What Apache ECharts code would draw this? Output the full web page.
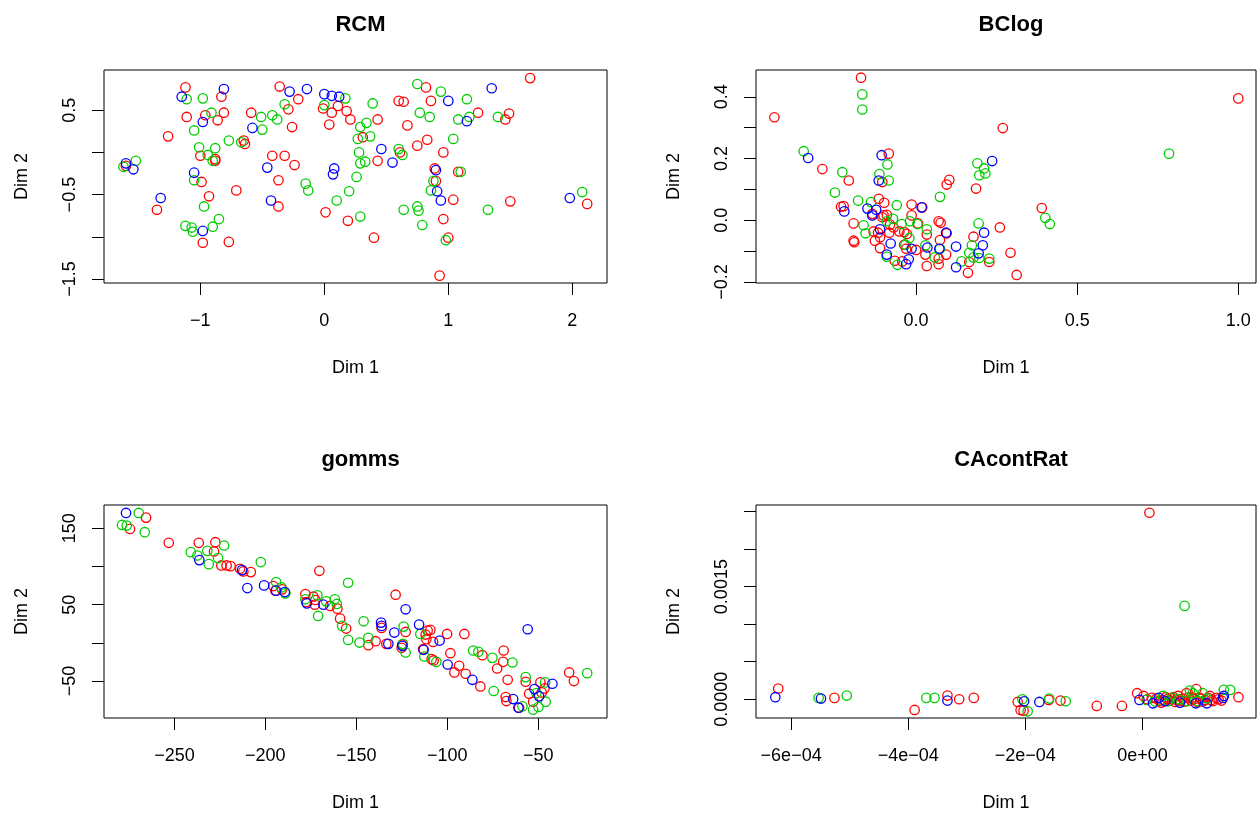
<!DOCTYPE html>
<html><head><meta charset="utf-8">
<script src="https://cdn.jsdelivr.net/npm/echarts@6/dist/echarts.min.js"></script>
<style>html,body{margin:0;padding:0;background:#fff}#c{width:1258px;height:814px}</style>
</head><body><div id="c"></div>
<script>
// ---------- DATA ----------
const panelTitles = ['RCM', 'BClog', 'gomms', 'CAcontRat'];
const xName = 'Dim 1';
const yName = 'Dim 2';

// RCM
const rcmRed = [[-1.12,0.77],[-0.83,0.66],[-1.11,0.42],[-0.96,0.44],[-0.86,0.38],[-0.81,0.47],[-1.26,0.19],[-0.65,0.14],[-0.64,0.10],[-0.59,0.47],[-0.36,0.78],[-0.21,0.63],[-0.29,0.51],[-0.26,0.30],[-1.0,-0.04],[-0.88,-0.08],[-0.88,-0.10],[-0.99,-0.35],[-0.93,-0.52],[-0.71,-0.45],[-1.35,-0.68],[-0.98,-1.07],[-0.77,-1.06],[-0.42,-0.04],[-0.32,-0.04],[-0.24,-0.15],[-0.37,-0.33],[-0.37,-0.64],[-0.01,0.52],[0.06,0.47],[0.11,0.55],[0.04,0.33],[0.18,0.49],[0.21,0.39],[0.01,-0.71],[0.19,-0.81],[-1.60,-0.16],[1.66,0.88],[0.82,0.77],[0.60,0.61],[0.64,0.60],[0.86,0.61],[0.43,0.39],[0.67,0.32],[0.31,0.18],[0.75,0.08],[0.83,0.15],[0.96,0.0],[0.61,0.0],[0.43,-0.10],[0.89,-0.19],[0.90,-0.34],[1.08,-0.23],[1.04,-0.56],[0.96,-0.79],[1.0,-1.01],[0.40,-1.01],[0.93,-1.46],[1.24,0.47],[1.46,0.39],[1.49,0.46],[1.50,-0.58],[2.12,-0.61]];
const rcmGreen = [[-1.11,0.63],[-0.98,0.64],[-0.91,0.47],[-1.05,0.26],[-1.01,0.06],[-0.94,-0.03],[-0.88,0.05],[-0.90,-0.10],[-0.77,0.14],[-0.67,0.12],[-0.51,0.42],[-0.50,0.27],[-0.42,0.44],[-0.38,0.39],[-0.32,0.57],[-1.52,-0.10],[-1.62,-0.17],[-1.05,-0.33],[-0.97,-0.64],[-1.12,-0.87],[-1.07,-0.89],[-1.06,-0.94],[-0.90,-0.88],[-0.85,-0.79],[-0.15,-0.37],[-0.13,-0.45],[0.0,0.56],[0.17,0.64],[0.10,-0.57],[0.20,-0.46],[0.75,0.81],[0.94,0.72],[0.39,0.58],[1.15,0.63],[0.77,0.47],[0.85,0.42],[1.08,0.39],[1.17,0.42],[1.40,0.42],[0.29,0.30],[0.34,0.35],[0.27,0.16],[0.37,0.19],[1.04,0.16],[0.28,0.0],[0.29,-0.13],[0.33,-0.11],[0.60,0.04],[0.63,-0.03],[0.26,-0.29],[1.10,-0.23],[0.88,-0.34],[0.86,-0.45],[0.64,-0.68],[0.75,-0.64],[0.76,-0.69],[0.79,-0.86],[0.29,-0.76],[0.98,-1.04],[1.32,-0.68],[2.08,-0.47]];
const rcmBlue = [[-1.15,0.66],[-0.81,0.75],[-0.98,0.36],[-0.58,0.29],[-0.28,0.72],[-0.14,0.75],[0.0,0.69],[0.06,0.67],[0.12,0.66],[-1.60,-0.13],[-1.54,-0.20],[-1.05,-0.24],[-1.32,-0.54],[-0.98,-0.93],[-0.46,-0.18],[-0.43,-0.57],[0.08,-0.19],[0.07,-0.26],[1.35,0.76],[1.0,0.61],[1.15,0.37],[0.46,0.04],[0.55,-0.12],[0.90,-0.21],[0.91,-0.46],[0.94,-0.57],[1.98,-0.54]];

// BClog
const bcRed = [[-0.44,0.334],[-0.171,0.462],[-0.085,0.216],[-0.291,0.166],[-0.209,0.129],[-0.105,0.124],[-0.233,0.044],[-0.225,0.046],[-0.194,-0.010],[-0.194,-0.066],[-0.192,-0.071],[-0.116,0.070],[-0.099,0.057],[-0.136,0.021],[-0.101,0.016],[-0.091,0.018],[-0.105,0.010],[-0.132,-0.036],[-0.118,-0.040],[-0.112,-0.055],[-0.128,-0.066],[-0.112,-0.090],[-0.081,-0.014],[-0.070,-0.023],[-0.083,-0.040],[-0.052,-0.036],[-0.037,-0.038],[-0.037,-0.079],[-0.031,-0.092],[-0.066,-0.131],[-0.043,-0.133],[-0.014,0.051],[-0.014,0.016],[0.006,-0.010],[0.0,-0.096],[0.019,0.042],[0.033,-0.046],[0.029,-0.111],[0.033,-0.148],[0.070,-0.003],[0.076,-0.008],[0.095,-0.042],[0.074,-0.064],[0.093,-0.111],[0.070,-0.124],[0.070,-0.142],[0.095,0.116],[0.103,0.131],[-0.029,-0.044],[1.0,0.395],[0.269,0.299],[0.186,0.103],[0.390,0.040],[0.260,-0.023],[0.178,-0.053],[0.165,-0.135],[0.227,-0.135],[0.161,-0.170],[0.293,-0.105],[0.312,-0.177]];
const bcGreen = [[-0.167,0.408],[-0.167,0.359],[-0.349,0.224],[-0.229,0.156],[-0.252,0.090],[-0.180,0.064],[-0.140,0.059],[-0.114,0.150],[-0.085,0.129],[-0.089,0.181],[-0.163,-0.016],[-0.157,-0.042],[-0.060,0.049],[-0.045,-0.012],[-0.019,-0.003],[0.004,-0.012],[-0.072,0.005],[-0.091,-0.003],[-0.091,-0.118],[-0.058,-0.144],[-0.033,-0.079],[-0.021,-0.057],[0.033,-0.029],[0.058,-0.120],[0.074,0.076],[0.029,-0.081],[0.074,-0.092],[0.785,0.216],[0.190,0.185],[0.211,0.168],[0.196,0.146],[0.215,0.152],[0.401,0.008],[0.415,-0.012],[0.194,-0.010],[0.173,-0.081],[0.165,-0.105],[0.178,-0.120],[0.196,-0.122],[0.227,-0.124],[0.141,-0.133]];
const bcBlue = [[-0.335,0.202],[-0.107,0.211],[-0.116,0.129],[-0.223,0.029],[-0.151,0.038],[-0.124,0.034],[-0.136,0.016],[0.017,0.042],[-0.112,-0.029],[-0.079,-0.075],[-0.091,-0.111],[-0.023,-0.126],[-0.031,-0.142],[-0.014,-0.092],[0.035,-0.088],[0.072,-0.092],[0.093,-0.040],[0.124,-0.085],[0.124,-0.152],[0.236,0.192],[0.211,-0.040],[0.207,-0.081],[0.194,-0.107]];

// gomms
const gmRed = [[-265.6,163.9],[-274.4,149.1],[-253.1,130.9],[-236.6,130.9],[-227.5,131.7],[-228.2,119.6],[-224.2,101.3],[-221.3,101.3],[-219.1,100.4],[-213.9,97.0],[-212.1,93.5],[-208.0,92.6],[-170.3,94.3],[-195.6,74.3],[-194.5,68.3],[-190.8,70.0],[-178.0,63.9],[-173.6,60.4],[-172.5,56.1],[-172.8,50.0],[-177.6,53.5],[-164.4,48.3],[-160.4,44.8],[-158.9,31.7],[-155.6,18.7],[-128.4,63.0],[-136.1,19.6],[-143.4,-3.0],[-139.4,2.2],[-133.5,-1.3],[-124.7,-2.2],[-125.1,-6.5],[-122.9,14.3],[-113.3,-8.3],[-111.9,10.9],[-110.8,16.1],[-109.3,17.0],[-111.5,4.8],[-108.6,-21.3],[-107.5,-23.0],[-107.8,1.3],[-100.1,11.7],[-90.6,11.7],[-98.3,-13.5],[-96.1,-38.7],[-93.5,-30.0],[-89.9,-40.4],[-81.8,-57.0],[-80.7,-16.1],[-69.0,-10.0],[-69.3,-24.8],[-72.6,-33.5],[-66.8,-48.3],[-56.9,-50.9],[-67.9,-70.9],[-67.5,-76.1],[-60.5,-84.8],[-55.0,-66.5],[-52.8,-77.0],[-48.8,-51.7],[-46.6,-59.6],[-48.1,-64.8],[-33.0,-38.7],[-30.4,-50.0]];
const gmGreen = [[-269.6,170.0],[-278.8,154.3],[-276.2,153.5],[-266.3,144.8],[-241.0,118.7],[-237.4,114.3],[-231.9,120.4],[-231.1,103.0],[-222.7,127.4],[-226.0,110.9],[-202.5,105.7],[-194.1,79.6],[-191.2,72.6],[-189.0,64.8],[-178.0,57.0],[-171.4,62.2],[-171.0,35.2],[-166.6,54.3],[-161.8,57.0],[-160.7,50.9],[-157.8,22.2],[-154.5,3.9],[-154.5,78.7],[-146.0,28.3],[-148.2,0.4],[-143.4,6.5],[-124.0,21.3],[-124.4,-1.3],[-122.9,-12.6],[-114.8,11.7],[-112.6,-17.8],[-106.0,-24.8],[-85.8,-10.0],[-82.9,-11.7],[-75.2,-19.6],[-64.2,-25.7],[-74.5,-63.0],[-56.9,-44.8],[-58.7,-83.0],[-52.8,-87.4],[-49.9,-83.9],[-45.9,-77.0],[-46.2,-51.7],[-23.1,-39.6],[-51.0,-65.7]];
const gmBlue = [[-276.6,170.0],[-236.3,108.3],[-212.8,95.2],[-209.9,71.7],[-200.7,75.2],[-194.1,68.3],[-189.3,66.5],[-177.2,51.7],[-168.1,50.0],[-122.9,43.9],[-136.4,26.5],[-136.1,22.2],[-129.1,13.5],[-115.5,23.9],[-132.4,-1.3],[-124.7,-3.9],[-113.0,-9.1],[-104.2,3.0],[-99.8,-28.3],[-86.2,-48.3],[-55.8,17.8],[-63.8,-73.5],[-52.1,-60.4],[-42.2,-53.5],[-60.9,-84.8],[-49.5,-70.0]];

// CAcontRat
const caRed = [[-6.22e-4,1.43e-4],[-5.26e-4,1.8e-5],[-3.89e-4,-1.43e-4],[-3.33e-4,4.9e-5],[-3.13e-4,0],[-2.88e-4,1.8e-5],[-2.13e-4,-3.6e-5],[-2.08e-4,-1.43e-4],[-2.03e-4,-1.52e-4],[-1.60e-4,-9e-6],[-1.40e-4,-1.8e-5],[-7.8e-5,-8.9e-5],[-3.5e-5,-8.9e-5],[-9e-6,8e-5],[1.2e-5,2.484e-3],[9.2e-5,1.34e-4],[1.64e-4,2.7e-5],[1.35e-4,-1.8e-5],[2e-6,4.4e-5],[1.6e-5,1.8e-5],[2.4e-5,9e-6],[4.0e-5,2.7e-5],[4.7e-5,-1.8e-5],[5.6e-5,-3.6e-5],[6.1e-5,4.4e-5],[6.9e-5,9e-6],[8.3e-5,-1.8e-5],[9.8e-5,1.8e-5],[1.07e-4,-9e-6],[1.15e-4,4.4e-5],[1.2e-4,-2.7e-5],[1.26e-4,1.8e-5],[3.2e-5,-4.5e-5],[7.5e-5,8e-5],[8e-6,0],[2.9e-5,-2e-5],[5e-5,1e-5],[6.5e-5,-2e-5],[8.8e-5,0],[1.03e-4,-3e-5],[1.12e-4,2e-5],[5.3e-5,3e-5],[3.6e-5,-1e-5],[7.9e-5,2.5e-5],[9.4e-5,-4e-5],[1.3e-4,0],[4.3e-5,5e-6],[5.9e-5,-1e-5],[7.2e-5,-3e-5],[8.5e-5,2e-5],[1.0e-4,5e-6],[1.18e-4,-1e-5]];
const caGreen = [[-5.53e-4,1.8e-5],[-5.05e-4,4.9e-5],[-3.69e-4,1.8e-5],[-3.55e-4,1.8e-5],[-2.05e-4,0],[-1.96e-4,-1.61e-4],[-1.59e-4,9e-6],[-1.31e-4,-2.7e-5],[7.2e-5,1.243e-3],[7e-6,-9e-6],[3.5e-5,4.4e-5],[5.2e-5,1.8e-5],[7.5e-5,-2.7e-5],[8.1e-5,1.16e-4],[8.6e-5,8e-5],[9.5e-5,-2.7e-5],[1.39e-4,1.25e-4],[1.5e-4,1.25e-4],[4.4e-5,-2.7e-5],[1.03e-4,8e-5],[2.2e-5,-3e-5],[6.2e-5,0],[1.1e-4,1e-5]];
const caBlue = [[-6.27e-4,2.7e-5],[-5.49e-4,9e-6],[-3.33e-4,-1.8e-5],[-2.02e-4,-2.7e-5],[-1.76e-4,-3.6e-5],[-5e-6,-9e-6],[1.8e-5,-5.4e-5],[3.9e-5,-2.7e-5],[6.4e-5,-4.5e-5],[9.1e-5,-5.4e-5],[1.1e-4,-5.4e-5],[1.39e-4,4.4e-5],[2.8e-5,1.8e-5],[1.375e-4,1.8e-5]];

// axis ticks and labels
const rcmXTicks = [-1, 0, 1, 2];            const rcmXLabels = ['−1', '0', '1', '2'];
const rcmYTicks = [-1.5, -1, -0.5, 0, 0.5]; const rcmYLabelVals = [-1.5, -0.5, 0.5]; const rcmYLabels = ['−1.5', '−0.5', '0.5'];
const bcXTicks = [0, 0.5, 1];               const bcXLabels = ['0.0', '0.5', '1.0'];
const bcYTicks = [-0.2, -0.1, 0, 0.1, 0.2, 0.3, 0.4]; const bcYLabelVals = [-0.2, 0, 0.2, 0.4]; const bcYLabels = ['−0.2', '0.0', '0.2', '0.4'];
const gmXTicks = [-250, -200, -150, -100, -50]; const gmXLabels = ['−250', '−200', '−150', '−100', '−50'];
const gmYTicks = [-50, 0, 50, 100, 150];    const gmYLabelVals = [-50, 50, 150]; const gmYLabels = ['−50', '50', '150'];
const caXTicks = [-6e-4, -4e-4, -2e-4, 0];  const caXLabels = ['−6e−04', '−4e−04', '−2e−04', '0e+00'];
const caYTicks = [0, 5e-4, 1e-3, 1.5e-3, 2e-3, 2.5e-3]; const caYLabelVals = [0, 1.5e-3]; const caYLabels = ['0.0000', '0.0015'];

// ---------- CHART ----------
const FONT = '"Liberation Sans", Arial, Helvetica, sans-serif';
const COLORS = { red: '#FF0000', green: '#00CD00', blue: '#0000FF' };

const grids = [
  { left: 104, top: 70, width: 503, height: 213 },
  { left: 756, top: 70, width: 500, height: 213 },
  { left: 104, top: 505, width: 503, height: 213 },
  { left: 756, top: 505, width: 500, height: 213 }
];
const ranges = [
  { x: [-1.777, 2.28], y: [-1.547, 0.976] },
  { x: [-0.497, 1.055], y: [-0.203, 0.487] },
  { x: [-288.7, -12.2], y: [-98.3, 180.4] },
  { x: [-6.6e-4, 1.94e-4], y: [-2.5e-4, 2.587e-3] }
];
const xTickSets = [
  [rcmXTicks, rcmXTicks, rcmXLabels], [bcXTicks, bcXTicks, bcXLabels],
  [gmXTicks, gmXTicks, gmXLabels], [caXTicks, caXTicks, caXLabels]
];
const yTickSets = [
  [rcmYTicks, rcmYLabelVals, rcmYLabels], [bcYTicks, bcYLabelVals, bcYLabels],
  [gmYTicks, gmYLabelVals, gmYLabels], [caYTicks, caYLabelVals, caYLabels]
];
const panelData = [
  [rcmRed, rcmGreen, rcmBlue], [bcRed, bcGreen, bcBlue],
  [gmRed, gmGreen, gmBlue], [caRed, caGreen, caBlue]
];

function labelFormatter(vals, texts) {
  return function (v) {
    for (let i = 0; i < vals.length; i++) {
      if (Math.abs(vals[i] - v) < 1e-10) return texts[i];
    }
    return '';
  };
}

const textBase = { color: '#000', fontFamily: FONT, fontSize: 18, lineHeight: 18 };

const xAxes = grids.map((g, i) => ({
  type: 'value', gridIndex: i, min: ranges[i].x[0], max: ranges[i].x[1], position: 'bottom',
  axisLine: { show: false, onZero: false }, splitLine: { show: false },
  axisTick: { show: true, inside: false, length: 12, customValues: xTickSets[i][0], lineStyle: { color: '#000', width: 1 } },
  axisLabel: Object.assign({ customValues: xTickSets[i][1], formatter: labelFormatter(xTickSets[i][1], xTickSets[i][2]), margin: 29 }, textBase),
  name: xName, nameLocation: 'middle', nameGap: 76, nameTextStyle: Object.assign({}, textBase)
}));
const yAxes = grids.map((g, i) => ({
  type: 'value', gridIndex: i, min: ranges[i].y[0], max: ranges[i].y[1], position: 'left',
  axisLine: { show: false, onZero: false }, splitLine: { show: false },
  axisTick: { show: true, inside: false, length: 12, customValues: yTickSets[i][0], lineStyle: { color: '#000', width: 1 } },
  axisLabel: Object.assign({ customValues: yTickSets[i][1], formatter: labelFormatter(yTickSets[i][1], yTickSets[i][2]), margin: 25, rotate: 90 }, textBase),
  name: yName, nameLocation: 'middle', nameGap: 73, nameRotate: 90, nameTextStyle: Object.assign({}, textBase)
}));

const series = [];
panelData.forEach((sets, i) => {
  ['red', 'green', 'blue'].forEach((c, k) => {
    series.push({
      type: 'scatter', xAxisIndex: i, yAxisIndex: i, data: sets[k],
      symbol: 'circle', symbolSize: 9.4, silent: true,
      itemStyle: { color: 'rgba(0,0,0,0)', borderColor: COLORS[c], borderWidth: 1.3, opacity: 1 },
      emphasis: { disabled: true }
    });
  });
});

const titles = grids.map((g, i) => ({
  text: panelTitles[i], left: g.left + g.width / 2, top: i < 2 ? 9 : 444, textAlign: 'center',
  textStyle: { color: '#000', fontFamily: FONT, fontSize: 22, fontWeight: 'bold', lineHeight: 22 }
}));

const chart = echarts.init(document.getElementById('c'), null, { renderer: 'canvas' });
chart.setOption({
  animation: false,
  backgroundColor: '#fff',
  title: titles,
  grid: grids.map(g => Object.assign({ show: true, borderColor: '#000', borderWidth: 1, backgroundColor: 'transparent', containLabel: false }, g)),
  xAxis: xAxes,
  yAxis: yAxes,
  series: series
});
</script>
</body></html>
